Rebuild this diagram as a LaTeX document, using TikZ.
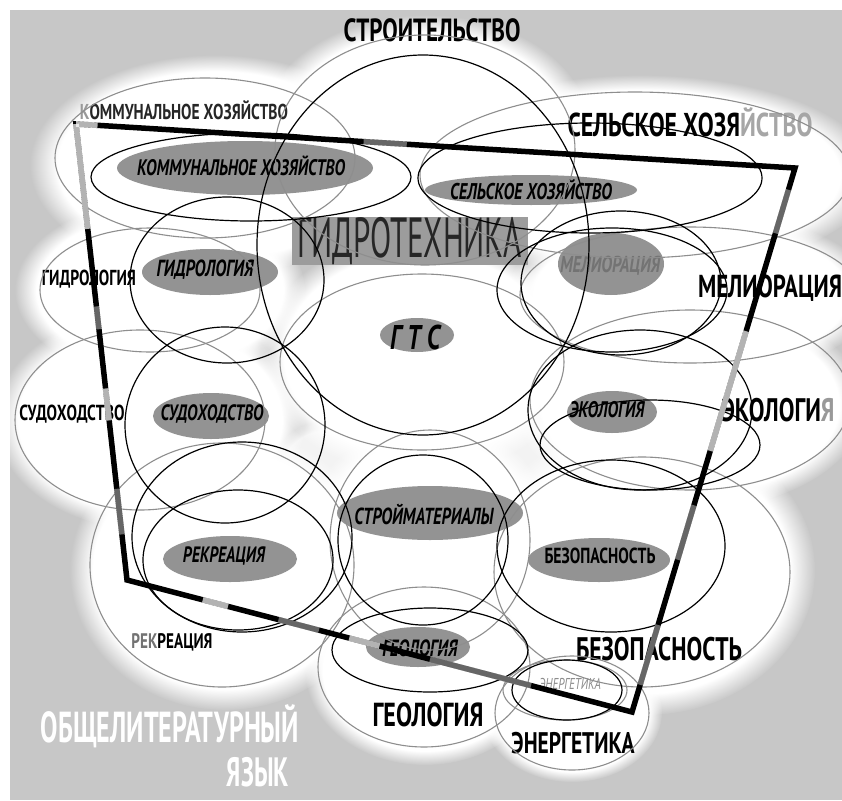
\documentclass[tikz,border=0pt]{standalone}
\usepackage{fontspec}
\usepackage{graphicx}
\usepackage{xcolor}
\usetikzlibrary{shapes.geometric, fadings, calc}

\newfontfamily\lblfont[FakeStretch=0.72]{PT Sans}
\newfontfamily\hydfont[FakeStretch=0.55]{PT Sans}
\newfontfamily\litfont[FakeStretch=0.6]{PT Sans}
\newcommand{\fitw}[2]{\resizebox{#1pt}{!}{#2}}

\definecolor{bggray}{HTML}{C7C7C7}
\definecolor{ringgray}{HTML}{8E8E8E}
\definecolor{lblgray}{HTML}{939393}
\definecolor{hydgray}{HTML}{9C9C9C}

\begin{document}
\begin{tikzpicture}[
    x=1pt, y=-1pt,
    glow/.style={fill=white, path fading=circle with fuzzy edge 15 percent},
    softglow/.style={fill=white, opacity=.8, path fading=circle with fuzzy edge 20 percent},
    thinring/.style={draw=ringgray, line width=1.1pt},
    blackring/.style={draw=black, line width=1.2pt},
    lblfill/.style={fill=lblgray},
    outlbl/.style={font=\lblfont\bfseries, text=black, inner sep=0pt},
    inlbl/.style={font=\lblfont\bfseries\itshape, text=black, inner sep=0pt},
    hydbox/.style={rectangle, fill=hydgray, text=black!85, font=\hydfont, minimum width=236pt, minimum height=48pt, inner sep=0pt},
    litlbl/.style={font=\litfont\bfseries, text=white, inner sep=0pt},
    frame/.style={line width=5.5pt, line join=miter, black},
    fadeseg/.style={white, line width=5.7pt, opacity=.7},
    greyseg/.style={white, line width=5.7pt, opacity=.4}
]

% Page and background
\useasboundingbox (0,0) rectangle (842,800);
\clip (0,0) rectangle (842,800);
\fill[white] (0,0) rectangle (842,800);
\fill[bggray] (10,10) rectangle (842,800);

% Glows
\fill[glow] (215,165) ellipse [x radius=185, y radius=110];
\fill[glow] (425,130) ellipse [x radius=165, y radius=115];
\fill[glow] (640,175) ellipse [x radius=235, y radius=100];
\fill[glow] (160,290) ellipse [x radius=145, y radius=90];
\fill[glow] (420,355) ellipse [x radius=160, y radius=120];
\fill[glow] (690,295) ellipse [x radius=185, y radius=85];
\fill[glow] (150,420) ellipse [x radius=155, y radius=110];
\fill[glow] (690,405) ellipse [x radius=175, y radius=105];
\fill[glow] (430,540) ellipse [x radius=125, y radius=120];
\fill[glow] (225,570) ellipse [x radius=155, y radius=140];
\fill[glow] (645,570) ellipse [x radius=170, y radius=145];
\fill[glow] (425,670) ellipse [x radius=120, y radius=95];
\fill[glow] (572,712) ellipse [x radius=90, y radius=70];
\fill[softglow] (330,470) ellipse [x radius=60, y radius=50];
\fill[softglow] (515,460) ellipse [x radius=60, y radius=50];
\fill[softglow] (520,630) ellipse [x radius=50, y radius=45];

% Label ellipses
\fill[lblfill] (245,168) ellipse [x radius=128, y radius=27];
\fill[lblfill] (531,190) ellipse [x radius=106, y radius=15];
\fill[lblfill] (210,272) ellipse [x radius=68, y radius=23];
\fill[lblfill] (417,335) ellipse [x radius=37, y radius=17];
\fill[lblfill] (611,264) ellipse [x radius=53, y radius=31];
\fill[lblfill] (211,416) ellipse [x radius=58, y radius=23];
\fill[lblfill] (612,412) ellipse [x radius=45, y radius=21];
\fill[lblfill] (430,513) ellipse [x radius=93, y radius=27];
\fill[lblfill] (230,559) ellipse [x radius=67, y radius=23];
\fill[lblfill] (599,560) ellipse [x radius=71, y radius=22];
\fill[lblfill] (418,647) ellipse [x radius=52, y radius=20];

% Inner labels
\node[inlbl] (kom-in) at (241,166) {\fitw{208}{КОММУНАЛЬНОЕ ХОЗЯЙСТВО}};
\node[inlbl] (sel-in) at (531,190) {\fitw{162}{СЕЛЬСКОЕ ХОЗЯЙСТВО}};
\node[inlbl] (gdr-in) at (205,270) {\fitw{97}{ГИДРОЛОГИЯ}};
\node[inlbl, text=black!55] (mel-in) at (610,266) {\fitw{100}{МЕЛИОРАЦИЯ}};
\node[inlbl] (gts) at (415,337) {\fitw{50}{Г Т С}};
\node[inlbl] (sud-in) at (212,414) {\fitw{103}{СУДОХОДСТВО}};
\node[inlbl] (eko-in) at (607,410) {\fitw{75}{ЭКОЛОГИЯ}};
\node[inlbl] (smat) at (424,515) {\fitw{139}{СТРОЙМАТЕРИАЛЫ}};
\node[inlbl] (rek-in) at (224,556) {\fitw{82}{РЕКРЕАЦИЯ}};
\node[outlbl] (bez-in) at (600,556) {\fitw{111}{БЕЗОПАСНОСТЬ}};
\node[inlbl] (geo-in) at (420,648) {\fitw{75}{ГЕОЛОГИЯ}};
\node[inlbl, font=\lblfont\itshape, text=black!45] (en-in) at (570,684) {\fitw{62}{ЭНЕРГЕТИКА}};

% Outer labels
\node[outlbl] (str-out) at (432,30) {\fitw{177}{СТРОИТЕЛЬСТВО}};
\node[outlbl, text=black!85] (kom-out) at (184,110) {\fitw{208}{\textcolor{black!40}{К}ОММУНАЛЬНОЕ ХОЗЯЙСТВО}};
\node[outlbl] (sel-out) at (690,122) {\fitw{245}{СЕЛЬСКОЕ ХОЗЯ\textcolor{black!35}{ЙСТВО}}};
\node[hydbox] (hydro) at (410,241) {\fitw{224}{ГИДРОТЕХНИКА}};
\node[outlbl] (gdr-out) at (89,279) {\fitw{94}{ГИДРОЛОГИЯ}};
\node[outlbl] (mel-out) at (770,288) {\fitw{144}{МЕЛИОРАЦИЯ}};
\node[outlbl] (sud-out) at (72,414) {\fitw{105}{СУДОХОДСТВО}};
\node[outlbl] (eko-out) at (778,410) {\fitw{113}{ЭКОЛОГИ\textcolor{black!40}{Я}}};
\node[outlbl] (rek-out) at (172,642) {\fitw{81}{\textcolor{black!55}{РЕК}РЕАЦИЯ}};
\node[outlbl] (bez-out) at (659,649) {\fitw{166}{БЕЗОПАСНОСТЬ}};
\node[outlbl] (geo-out) at (428,715) {\fitw{111}{ГЕОЛОГИЯ}};
\node[outlbl] (en-out) at (573,743) {\fitw{123}{ЭНЕРГЕТИКА}};
\node[litlbl] (lit-a) at (170,726) {\fitw{258}{ОБЩЕЛИТЕРАТУРНЫЙ}};
\node[litlbl] (lit-b) at (258,772) {\fitw{62}{ЯЗЫК}};

% Thin grey rings
\draw[thinring] (205,158) ellipse [x radius=150, y radius=80];
\draw[thinring] (425,150) ellipse [x radius=150, y radius=115];
\draw[thinring] (635,175) ellipse [x radius=215, y radius=83];
\draw[thinring] (150,290) ellipse [x radius=110, y radius=62];
\draw[thinring] (422,362) ellipse [x radius=142, y radius=88];
\draw[thinring] (690,295) ellipse [x radius=170, y radius=68];
\draw[thinring] (140,420) ellipse [x radius=125, y radius=90];
\draw[thinring] (690,400) ellipse [x radius=160, y radius=90];
\draw[thinring] (430,540) ellipse [x radius=100, y radius=110];
\draw[thinring] (222,565) ellipse [x radius=132, y radius=122];
\draw[thinring] (642,572) ellipse [x radius=148, y radius=115];
\draw[thinring] (424,667) ellipse [x radius=106, y radius=80];
\draw[thinring] (572,713) ellipse [x radius=77, y radius=57];
\draw[thinring] (565,690) ellipse [x radius=62, y radius=30];

% Black rings
\draw[blackring] (251,177) ellipse [x radius=160, y radius=44];
\draw[blackring] (423,245) ellipse [x radius=166, y radius=190];
\draw[blackring] (227,280) ellipse [x radius=97, y radius=83];
\draw[blackring] (590,178) ellipse [x radius=172, y radius=55];
\draw[blackring] (621,283) ellipse [x radius=100, y radius=72];
\draw[blackring] (612,290) ellipse [x radius=115, y radius=62];
\draw[blackring] (225,425) ellipse [x radius=100, y radius=98];
\draw[blackring] (640,410) ellipse [x radius=112, y radius=80];
\draw[blackring] (650,445) ellipse [x radius=110, y radius=45];
\draw[blackring] (423,540) ellipse [x radius=85, y radius=85];
\draw[blackring] (242,537) ellipse [x radius=110, y radius=95];
\draw[blackring] (238,560) ellipse [x radius=95, y radius=70];
\draw[blackring] (611,546) ellipse [x radius=114, y radius=86];
\draw[blackring] (430,650) ellipse [x radius=98, y radius=42];
\draw[blackring] (567,690) ellipse [x radius=55, y radius=30];

% Frame
\coordinate (tl) at (76,124);
\coordinate (tr) at (795,168);
\coordinate (br) at (632,712);
\coordinate (bl) at (127,580);
\draw[frame] (tl) -- (tr) -- (br) -- (bl) -- cycle;

% Frame fading
\draw[fadeseg] (tl) -- ($(tl)!.03!(tr)$);
\draw[greyseg] ($(tl)!.40!(tr)$) -- ($(tl)!.46!(tr)$);
\draw[greyseg] ($(tr)!.04!(br)$) -- ($(tr)!.12!(br)$);
\draw[fadeseg] ($(tr)!.30!(br)$) -- ($(tr)!.52!(br)$);
\draw[greyseg] ($(tr)!.62!(br)$) -- ($(tr)!.72!(br)$);
\draw[greyseg] ($(tr)!.84!(br)$) -- ($(tr)!.95!(br)$);
\draw[greyseg] ($(br)!.2!(bl)$) -- ($(br)!.4!(bl)$);
\draw[fadeseg] ($(br)!.5!(bl)$) -- ($(br)!.56!(bl)$);
\draw[greyseg] ($(br)!.62!(bl)$) -- ($(br)!.7!(bl)$);
\draw[fadeseg] ($(br)!.8!(bl)$) -- ($(br)!.85!(bl)$);
\draw[greyseg] ($(bl)!.1!(tl)$) -- ($(bl)!.2!(tl)$);
\draw[fadeseg] ($(bl)!.35!(tl)$) -- ($(bl)!.42!(tl)$);
\draw[greyseg] ($(bl)!.55!(tl)$) -- ($(bl)!.6!(tl)$);
\draw[fadeseg] ($(bl)!.77!(tl)$) -- (tl);

\end{tikzpicture}
\end{document}
